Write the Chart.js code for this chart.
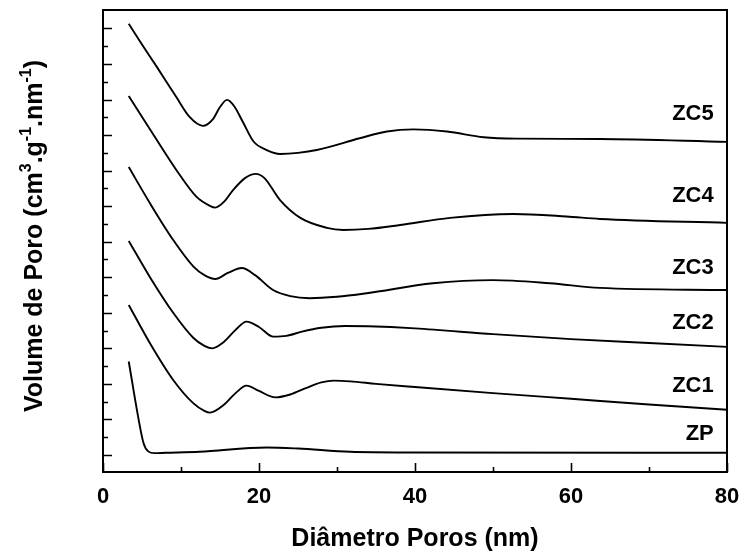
<!DOCTYPE html>
<html>
<head>
<meta charset="utf-8">
<script src="https://cdn.jsdelivr.net/npm/chart.js@4.4.1/dist/chart.umd.min.js"></script>
<style>
  html, body { margin: 0; padding: 0; background: #fff; }
</style>
</head>
<body>
<canvas id="chart" width="741" height="558"></canvas>
<script>
// pore size distributions, curves stacked with a vertical offset
const zc5X = [3.3, 5.0, 6.9, 9.4, 11.1, 12.8, 14.1, 15.0, 15.9, 16.8, 18.0, 19.3, 21.0, 22.7, 25.0, 27.4, 32.9, 36.4, 39.8, 44.1, 48.8, 53.0, 63.7, 80];
const zc5Y = [12.13, 11.55, 10.92, 10.07, 9.51, 9.26, 9.45, 9.79, 9.99, 9.82, 9.34, 8.82, 8.58, 8.47, 8.50, 8.58, 8.91, 9.10, 9.16, 9.10, 8.94, 8.90, 8.89, 8.81];

const zc4X = [3.3, 6.9, 9.4, 12.0, 13.7, 14.4, 15.5, 16.7, 18.2, 19.6, 20.7, 22.7, 25.3, 28.7, 30.8, 34.0, 38.1, 44.5, 52.6, 59.4, 63.7, 80];
const zc4Y = [10.10, 8.86, 8.02, 7.26, 7.01, 6.96, 7.12, 7.46, 7.79, 7.91, 7.79, 7.17, 6.67, 6.39, 6.33, 6.36, 6.47, 6.67, 6.78, 6.71, 6.64, 6.53];

const zc3X = [3.3, 6.0, 9.0, 11.6, 13.0, 14.4, 16.0, 17.8, 19.5, 21.8, 24.0, 26.5, 30.0, 33.8, 42.3, 50.0, 57.3, 63.7, 80];
const zc3Y = [8.10, 7.09, 6.05, 5.30, 5.06, 4.95, 5.12, 5.26, 5.06, 4.64, 4.47, 4.41, 4.45, 4.55, 4.83, 4.92, 4.83, 4.70, 4.64];

const zc2X = [3.3, 6.0, 9.0, 11.6, 13.0, 14.0, 15.5, 17.0, 18.4, 20.0, 21.8, 23.5, 25.5, 28.0, 31.0, 34.0, 40, 50, 60, 70, 80];
const zc2Y = [6.02, 5.01, 4.00, 3.29, 3.07, 3.00, 3.18, 3.52, 3.75, 3.60, 3.33, 3.35, 3.47, 3.58, 3.63, 3.62, 3.56, 3.40, 3.26, 3.15, 3.04];

const zc1X = [3.3, 6.0, 9.0, 11.6, 13.0, 13.7, 15.5, 17.0, 18.4, 20.0, 22.1, 24.0, 26.0, 28.0, 29.6, 31.7, 35.0, 40, 50, 60, 70, 80];
const zc1Y = [4.22, 3.15, 2.11, 1.45, 1.24, 1.19, 1.41, 1.74, 1.95, 1.80, 1.62, 1.70, 1.88, 2.04, 2.09, 2.07, 2.00, 1.91, 1.74, 1.58, 1.42, 1.27];

const zpX = [3.3, 4.5, 5.2, 5.8, 6.6, 8.0, 12.4, 21.0, 25.0, 31.7, 40, 80];
const zpY = [2.63, 1.08, 0.33, 0.10, 0.05, 0.06, 0.09, 0.21, 0.18, 0.09, 0.07, 0.06];

const seriesNames = ["ZC5", "ZC4", "ZC3", "ZC2", "ZC1", "ZP"];
const nameY = [9.59, 7.29, 5.26, 3.71, 1.94, 0.59];
const nameX = 78.3;

const xTicks = [0, 10, 20, 30, 40, 50, 60, 70, 80];
const xLabels = [0, 20, 40, 60, 80];
const yMajor = [0, 1, 2, 3, 4, 5, 6, 7, 8, 9, 10, 11, 12];
const yMinor = [0.5, 1.5, 2.5, 3.5, 4.5, 5.5, 6.5, 7.5, 8.5, 9.5, 10.5, 11.5];

const FONT = '"Liberation Sans", Arial, sans-serif';

function toPoints(xs, ys) {
  return xs.map((x, i) => ({ x, y: ys[i] }));
}

function lineSet(label, xs, ys) {
  return {
    label,
    data: toPoints(xs, ys),
    borderColor: "#000",
    borderWidth: 1.9,
    pointRadius: 0,
    fill: false,
    cubicInterpolationMode: "monotone",
  };
}

// superscript-aware y title, drawn rotated
function drawYTitle(ctx, cx, cy) {
  const parts = [
    ["Volume de Poro (cm", false],
    ["3", true],
    [".g", false],
    ["-1", true],
    [".nm", false],
    ["-1", true],
    [")", false],
  ];
  const big = `bold 25px ${FONT}`;
  const small = `bold 16px ${FONT}`;
  let total = 0;
  parts.forEach(([t, sup]) => {
    ctx.font = sup ? small : big;
    total += ctx.measureText(t).width;
  });
  ctx.save();
  ctx.translate(cx, cy);
  ctx.rotate(-Math.PI / 2);
  ctx.fillStyle = "#000";
  ctx.textBaseline = "alphabetic";
  ctx.textAlign = "left";
  let pos = -total / 2;
  parts.forEach(([t, sup]) => {
    ctx.font = sup ? small : big;
    ctx.fillText(t, pos, sup ? -2 : 9);
    pos += ctx.measureText(t).width;
  });
  ctx.restore();
}

const axesPlugin = {
  id: "axesPlugin",
  afterDraw(chart) {
    const { ctx, chartArea: a } = chart;
    const x = chart.scales.x;
    const y = chart.scales.y;
    ctx.save();
    ctx.strokeStyle = "#000";
    ctx.lineWidth = 2;
    ctx.strokeRect(a.left, a.top, a.right - a.left, a.bottom - a.top);

    ctx.lineWidth = 1.6;
    ctx.beginPath();
    xTicks.forEach((v) => {
      const px = Math.round(x.getPixelForValue(v)) + 0.5;
      const len = v % 20 === 0 ? 9 : 5;
      ctx.moveTo(px, a.bottom);
      ctx.lineTo(px, a.bottom - len);
    });
    yMajor.forEach((v) => {
      const py = Math.round(y.getPixelForValue(v)) + 0.5;
      ctx.moveTo(a.left, py);
      ctx.lineTo(a.left + 9, py);
    });
    yMinor.forEach((v) => {
      const py = Math.round(y.getPixelForValue(v)) + 0.5;
      ctx.moveTo(a.left, py);
      ctx.lineTo(a.left + 5, py);
    });
    ctx.stroke();

    ctx.fillStyle = "#000";
    ctx.font = `bold 22px ${FONT}`;
    ctx.textAlign = "center";
    ctx.textBaseline = "top";
    xLabels.forEach((v) => {
      ctx.fillText(String(v), x.getPixelForValue(v), a.bottom + 14);
    });

    ctx.font = `bold 25px ${FONT}`;
    ctx.textBaseline = "middle";
    ctx.fillText("Diâmetro Poros (nm)", x.getPixelForValue(40), 539);

    ctx.font = `bold 22px ${FONT}`;
    ctx.textAlign = "right";
    seriesNames.forEach((name, i) => {
      ctx.fillText(name, x.getPixelForValue(nameX), y.getPixelForValue(nameY[i]));
    });
    ctx.restore();

    drawYTitle(ctx, 33, 236);
  },
};

new Chart(document.getElementById("chart"), {
  type: "line",
  data: {
    datasets: [
      lineSet("ZC5", zc5X, zc5Y),
      lineSet("ZC4", zc4X, zc4Y),
      lineSet("ZC3", zc3X, zc3Y),
      lineSet("ZC2", zc2X, zc2Y),
      lineSet("ZC1", zc1X, zc1Y),
      lineSet("ZP", zpX, zpY),
    ],
  },
  options: {
    responsive: false,
    animation: false,
    devicePixelRatio: 1,
    layout: { padding: { left: 103, top: 10, right: 14, bottom: 86 } },
    plugins: { legend: { display: false }, tooltip: { enabled: false } },
    scales: {
      x: { type: "linear", min: 0, max: 80, display: false },
      y: { type: "linear", min: -0.48, max: 12.52, display: false },
    },
  },
  plugins: [axesPlugin],
});
</script>
</body>
</html>
